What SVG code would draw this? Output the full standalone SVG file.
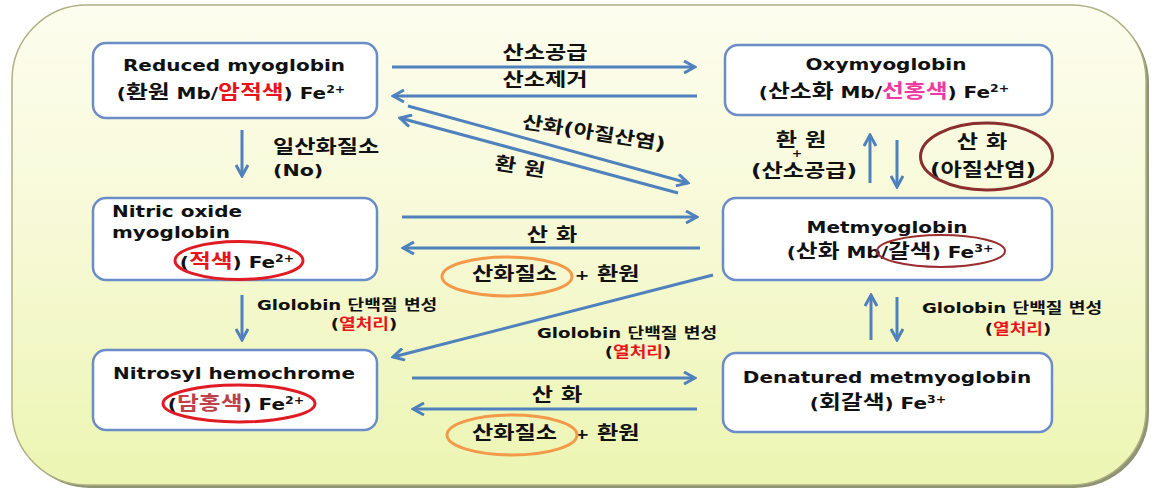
<svg xmlns="http://www.w3.org/2000/svg" width="1152" height="493" viewBox="0 0 1152 493">
<style>
.t{font-family:"DejaVu Sans","Noto Sans CJK KR",sans-serif;font-weight:bold;fill:#111;}
.ti{font-size:16px;}
.k{font-size:19px;}
.sup{font-size:10px;}
.lb{font-size:18.5px;}
.gl{font-size:14.5px;}
.red{fill:#e8141c;}
.pink{fill:#ee3aa0;}
.dred{fill:#c0404a;}
.node{fill:#ffffff;stroke:#6a8cc7;stroke-width:2.5;}
.arr{stroke:#4f81bd;stroke-width:3;fill:none;marker-end:url(#ah);}
.ell{fill:none;stroke-width:3;}
</style>
<defs>
<linearGradient id="bg" x1="0" y1="0" x2="0" y2="1">
<stop offset="0" stop-color="#fdfdef"/>
<stop offset="0.5" stop-color="#f6f9d4"/>
<stop offset="1" stop-color="#ecf5b2"/>
</linearGradient>
<marker id="ah" viewBox="0 0 14 14" refX="12" refY="7" markerWidth="14" markerHeight="14" markerUnits="userSpaceOnUse" orient="auto">
<path d="M1,1 L12,7 L1,13" fill="none" stroke="#4f81bd" stroke-width="3"/>
</marker>
</defs>
<g id="background">
<rect x="15" y="8" width="1134" height="480" rx="75" fill="#8e9372"/>
<rect x="12" y="5" width="1134" height="480" rx="75" fill="url(#bg)" stroke="#aeb084" stroke-width="1.5"/>
</g>
<g id="connectors">
<line class="arr" x1="392" y1="67" x2="695" y2="67"/>
<line class="arr" x1="697" y1="96" x2="393" y2="96"/>
<line class="arr" x1="408" y1="106" x2="688" y2="183"/>
<line class="arr" x1="678" y1="193" x2="400" y2="118"/>
<line class="arr" x1="242" y1="130" x2="242" y2="176"/>
<line class="arr" x1="402" y1="217" x2="697" y2="217"/>
<line class="arr" x1="700" y1="248" x2="403" y2="248"/>
<line class="arr" x1="713" y1="275" x2="393" y2="357"/>
<line class="arr" x1="242" y1="295" x2="242" y2="340"/>
<line class="arr" x1="412" y1="378" x2="695" y2="378"/>
<line class="arr" x1="697" y1="409" x2="413" y2="409"/>
<line class="arr" x1="870" y1="183" x2="870" y2="135"/>
<line class="arr" x1="897" y1="140" x2="897" y2="187"/>
<line class="arr" x1="871" y1="340" x2="871" y2="295"/>
<line class="arr" x1="897" y1="297" x2="897" y2="340"/>
<g id="labels">
<text class="t lb" text-anchor="middle" transform="translate(545,59) scale(1.25,1)">산소공급</text>
<text class="t lb" text-anchor="middle" transform="translate(545,86) scale(1.25,1)">산소제거</text>
<text class="t" style="font-size:18px" text-anchor="middle" transform="translate(593,139) rotate(9) scale(1.25,1)">산화(아질산염)</text>
<text class="t lb" text-anchor="middle" transform="translate(519,173) rotate(9) scale(1.25,1)">환 원</text>
<text class="t lb" transform="translate(273,153) scale(1.25,1)">일산화질소</text>
<text class="t" style="font-size:16.5px" transform="translate(273,176) scale(1.25,1)">(No)</text>
<text class="t lb" text-anchor="middle" transform="translate(801,146) scale(1.25,1)">환 원</text>
<text class="t" style="font-size:10px" text-anchor="middle" transform="translate(797,157) scale(1.25,1)">+</text>
<text class="t lb" text-anchor="middle" transform="translate(804,177) scale(1.25,1)">(산소공급)</text>
<text class="t lb" text-anchor="middle" transform="translate(982,148) scale(1.25,1)">산 화</text>
<text class="t lb" text-anchor="middle" transform="translate(983,176) scale(1.25,1)">(아질산염)</text>
<ellipse class="ell" cx="986.5" cy="156.5" rx="66" ry="33.5" stroke="#8b2e2e"/>
<text class="t lb" text-anchor="middle" transform="translate(552,241) scale(1.25,1)">산 화</text>
<text class="t lb" transform="translate(472,280) scale(1.25,1)">산화질소</text>
<text class="t" style="font-size:14px" text-anchor="middle" transform="translate(582,280) scale(1.25,1)">+</text>
<text class="t lb" transform="translate(597,280) scale(1.25,1)">환원</text>
<ellipse class="ell" cx="507" cy="276.5" rx="65" ry="19.5" stroke="#f39a4a"/>
<text class="t lb" text-anchor="middle" transform="translate(557,401) scale(1.25,1)">산 화</text>
<text class="t lb" transform="translate(472,439) scale(1.25,1)">산화질소</text>
<text class="t" style="font-size:14px" text-anchor="middle" transform="translate(582,439) scale(1.25,1)">+</text>
<text class="t lb" transform="translate(597,439) scale(1.25,1)">환원</text>
<ellipse class="ell" cx="512" cy="435" rx="65" ry="20" stroke="#f39a4a"/>
<text class="t gl" transform="translate(257,310) scale(1.25,1)">Glolobin 단백질 변성</text>
<text class="t gl" text-anchor="middle" transform="translate(364,329) scale(1.25,1)">(<tspan class="red">열처리</tspan>)</text>
<text class="t gl" text-anchor="middle" transform="translate(627,338) scale(1.25,1)">Glolobin 단백질 변성</text>
<text class="t gl" text-anchor="middle" transform="translate(638,357) scale(1.25,1)">(<tspan class="red">열처리</tspan>)</text>
<text class="t gl" text-anchor="middle" transform="translate(1012,313) scale(1.25,1)">Glolobin 단백질 변성</text>
<text class="t gl" text-anchor="middle" transform="translate(1018,334) scale(1.25,1)">(<tspan class="red">열처리</tspan>)</text>
</g>
</g>
<g id="node-reduced">
<rect class="node" x="93" y="43" width="284" height="75" rx="13"/>
<text class="t ti" text-anchor="middle" transform="translate(234,71) scale(1.25,1)">Reduced myoglobin</text>
<text class="t ti" text-anchor="middle" transform="translate(231,99) scale(1.25,1)">(<tspan class="k">환원</tspan> Mb/<tspan class="k red">암적색</tspan>) Fe<tspan class="sup" dy="-6">2+</tspan></text>
</g>
<g id="node-oxy">
<rect class="node" x="725" y="45" width="327" height="70" rx="13"/>
<text class="t ti" text-anchor="middle" transform="translate(886,70) scale(1.25,1)">Oxymyoglobin</text>
<text class="t ti" text-anchor="middle" transform="translate(884,98) scale(1.25,1)">(<tspan class="k">산소화</tspan> Mb/<tspan class="k pink">선홍색</tspan>) Fe<tspan class="sup" dy="-6">2+</tspan></text>
</g>
<g id="node-nitric">
<rect class="node" x="93" y="198" width="284" height="82" rx="13"/>
<text class="t ti" transform="translate(112,217) scale(1.25,1)">Nitric oxide</text>
<text class="t ti" transform="translate(112,238) scale(1.25,1)">myoglobin</text>
<text class="t ti" text-anchor="middle" transform="translate(237,268) scale(1.25,1)">(<tspan class="k red">적색</tspan>) Fe<tspan class="sup" dy="-6">2+</tspan></text>
<ellipse class="ell" cx="239" cy="260.5" rx="64" ry="19" stroke="#e01b24"/>
</g>
<g id="node-met">
<rect class="node" x="723" y="198" width="329" height="82" rx="13"/>
<text class="t ti" text-anchor="middle" transform="translate(887,233) scale(1.25,1)">Metmyoglobin</text>
<text class="t ti" text-anchor="middle" transform="translate(890,258) scale(1.25,1)">(<tspan class="k">산화</tspan> Mb/<tspan class="k">갈색</tspan>)  Fe<tspan class="sup" dy="-6">3+</tspan></text>
<ellipse cx="941" cy="251" rx="64" ry="16" fill="none" stroke="#9b2d30" stroke-width="2"/>
</g>
<g id="node-nitrosyl">
<rect class="node" x="93" y="350" width="284" height="80" rx="13"/>
<text class="t ti" text-anchor="middle" transform="translate(234,379) scale(1.25,1)">Nitrosyl hemochrome</text>
<text class="t ti" text-anchor="middle" transform="translate(236,410) scale(1.25,1)">(<tspan class="k dred">담홍색</tspan>) Fe<tspan class="sup" dy="-6">2+</tspan></text>
<ellipse class="ell" cx="239" cy="403.5" rx="76" ry="18.5" stroke="#e01b24"/>
</g>
<g id="node-denatured">
<rect class="node" x="723" y="353" width="329" height="79" rx="13"/>
<text class="t ti" text-anchor="middle" transform="translate(887,383) scale(1.25,1)">Denatured metmyoglobin</text>
<text class="t ti" text-anchor="middle" transform="translate(878,409) scale(1.25,1)">(<tspan class="k">회갈색</tspan>) Fe<tspan class="sup" dy="-6">3+</tspan></text>
</g>
</svg>
